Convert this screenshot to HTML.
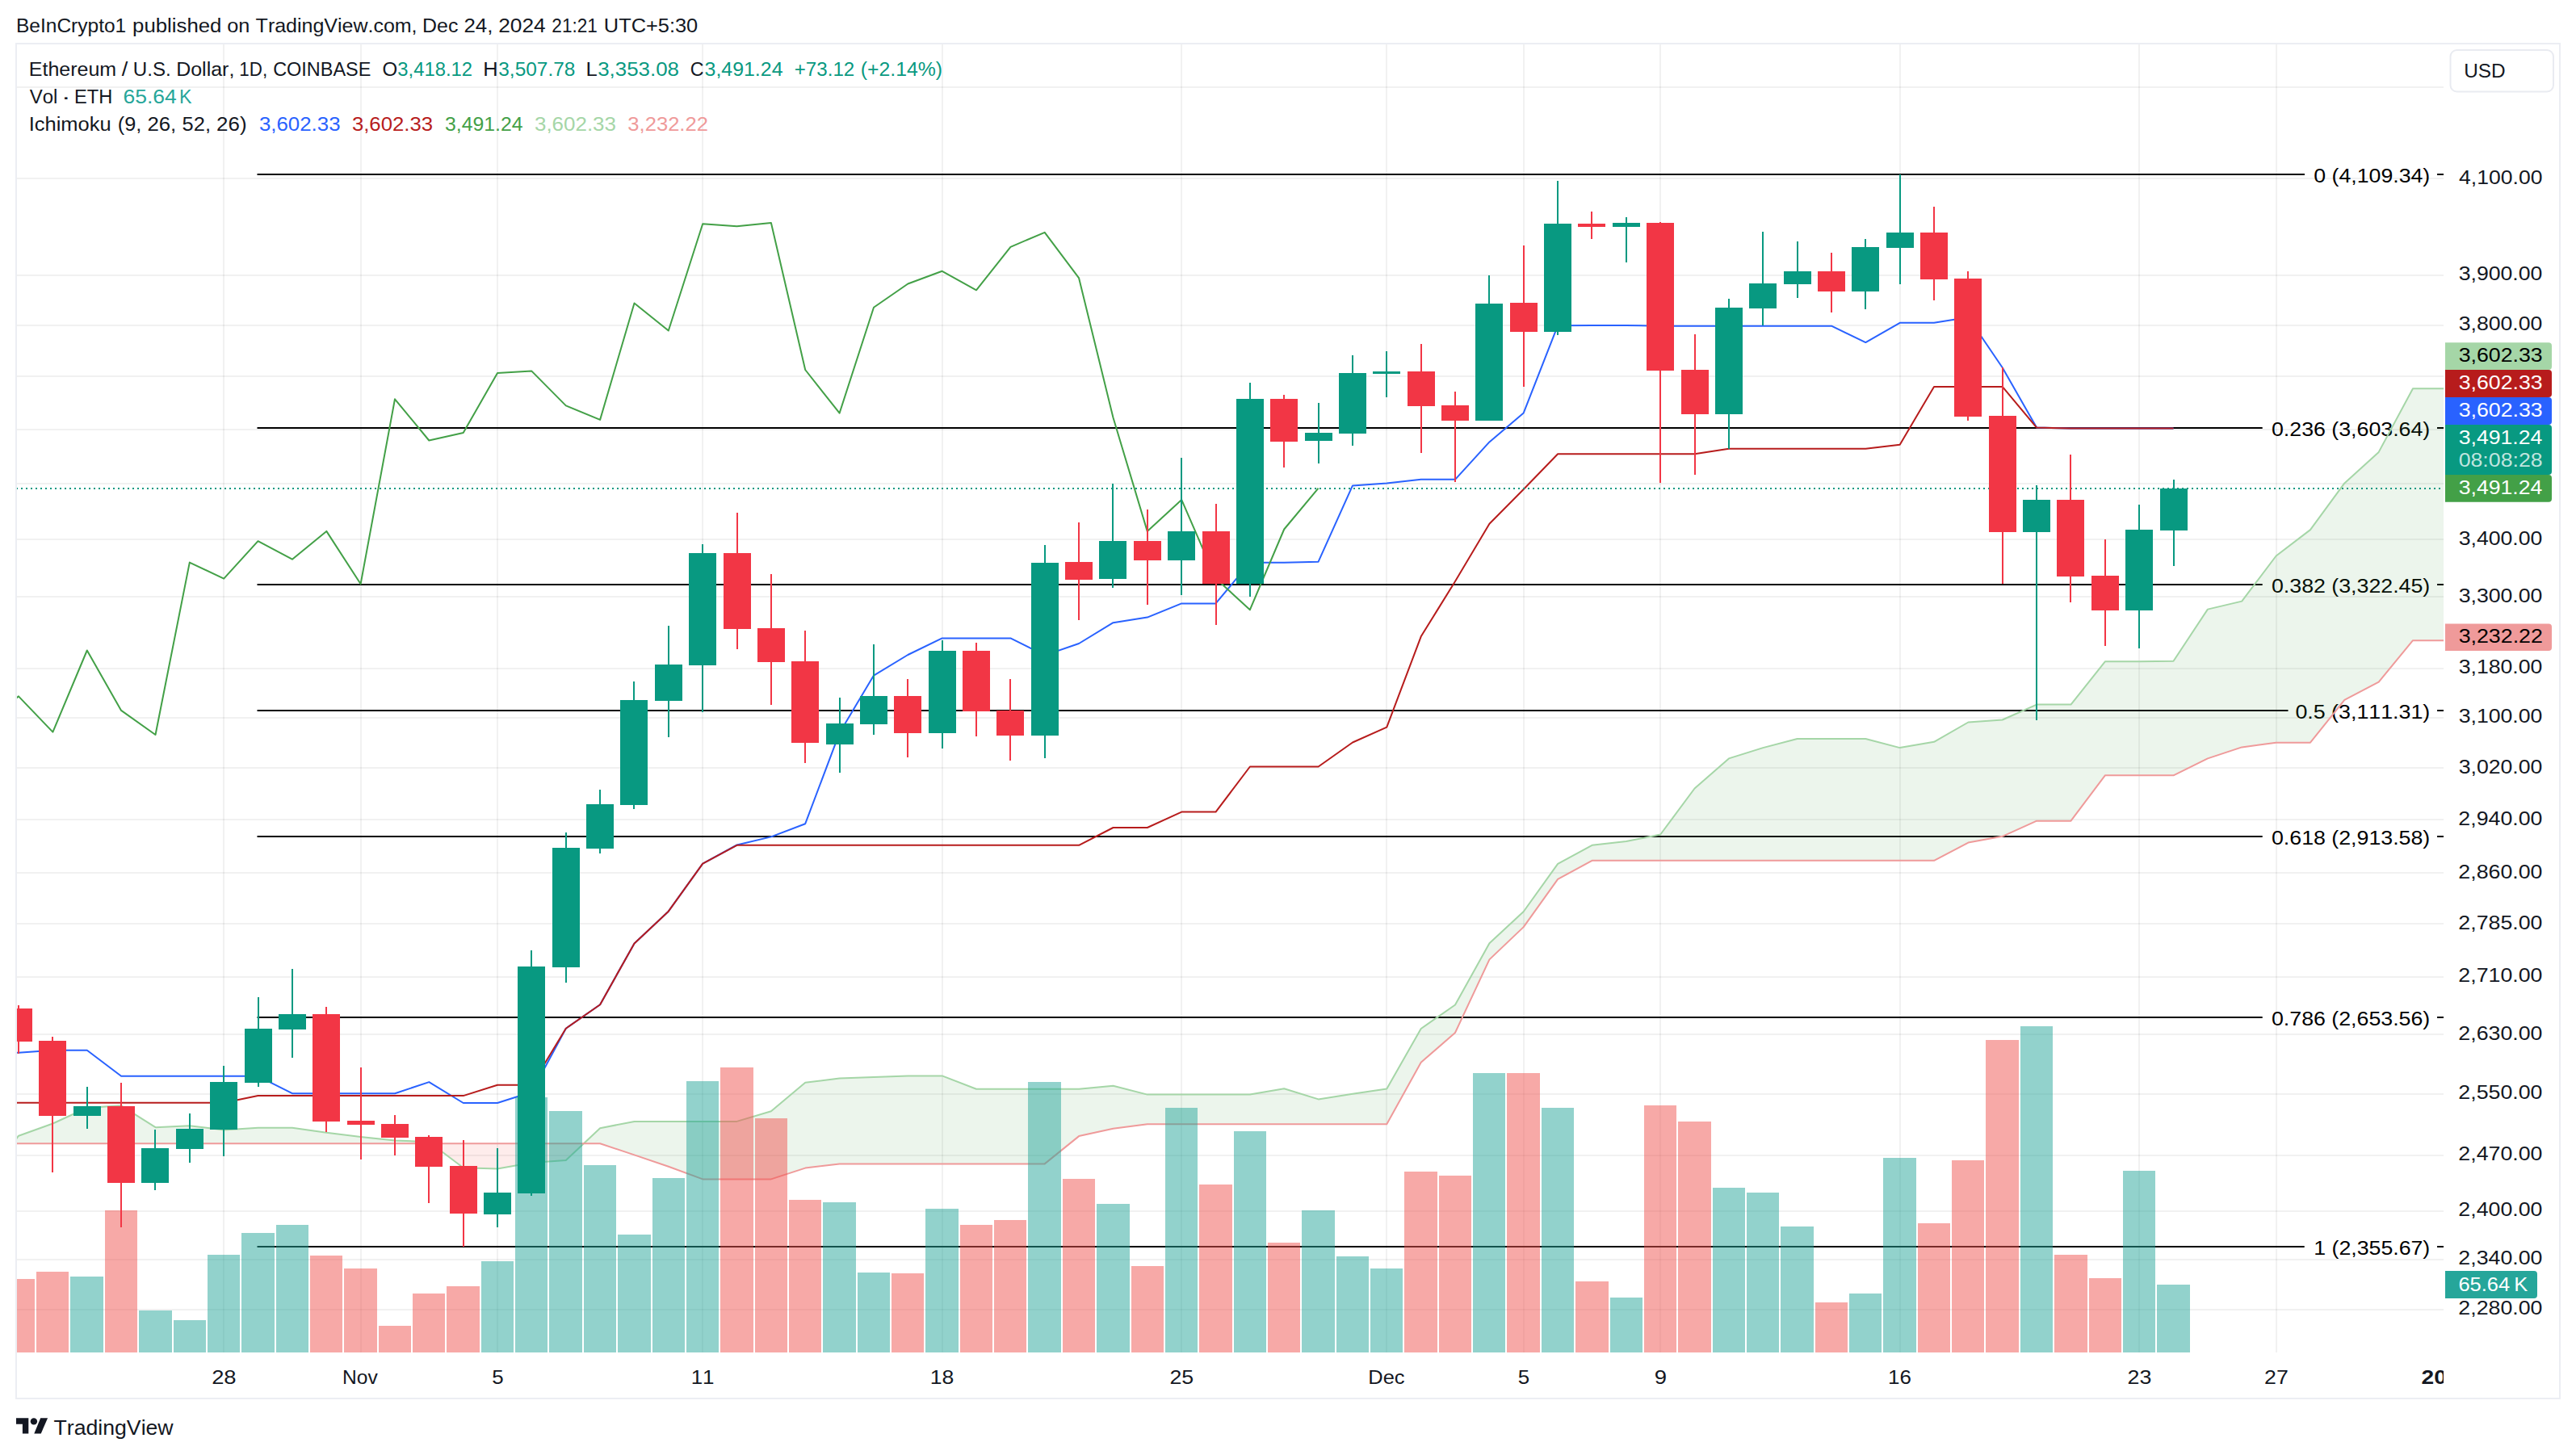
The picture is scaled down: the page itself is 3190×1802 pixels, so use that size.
<!DOCTYPE html>
<html lang="en"><head><meta charset="utf-8"><title>ETHUSD chart</title>
<style>html,body{margin:0;padding:0;background:#fff}body{width:3190px;height:1802px;overflow:hidden}svg{display:block}text{font-family:"Liberation Sans",sans-serif;fill:#131722;font-kerning:none}.ax{font-size:24px}.lg{font-size:22px}</style></head><body>
<svg width="3190" height="1802" viewBox="0 0 3190 1802">
<rect width="3190" height="1802" fill="#fff"/>
<defs><clipPath id="pane"><rect x="20" y="55" width="3006" height="1620"/></clipPath><clipPath id="tax"><rect x="21" y="1675" width="3005" height="56"/></clipPath></defs>
<text y="39.8" font-size="24.8" xml:space="preserve"><tspan x="19.99" textLength="136.27" lengthAdjust="spacingAndGlyphs">BeInCrypto1</tspan> <tspan x="164.14" textLength="110.22" lengthAdjust="spacingAndGlyphs">published</tspan> <tspan x="281.24" textLength="28.16" lengthAdjust="spacingAndGlyphs">on</tspan> <tspan x="316.64" textLength="199.91" lengthAdjust="spacingAndGlyphs">TradingView.com,</tspan> <tspan x="523.06" textLength="44.30" lengthAdjust="spacingAndGlyphs">Dec</tspan> <tspan x="574.50" textLength="35.92" lengthAdjust="spacingAndGlyphs">24,</tspan> <tspan x="617.18" textLength="58.49" lengthAdjust="spacingAndGlyphs">2024</tspan> <tspan x="683.36" textLength="56.49" lengthAdjust="spacingAndGlyphs">21:21</tspan> <tspan x="747.89" textLength="116.30" lengthAdjust="spacingAndGlyphs">UTC+5:30</tspan></text>
<g clip-path="url(#pane)">
<g stroke="#283230" stroke-opacity="0.065" stroke-width="2">
<line x1="277" y1="55" x2="277" y2="1675"/>
<line x1="447" y1="55" x2="447" y2="1675"/>
<line x1="616" y1="55" x2="616" y2="1675"/>
<line x1="870" y1="55" x2="870" y2="1675"/>
<line x1="1167" y1="55" x2="1167" y2="1675"/>
<line x1="1463" y1="55" x2="1463" y2="1675"/>
<line x1="1717" y1="55" x2="1717" y2="1675"/>
<line x1="1887" y1="55" x2="1887" y2="1675"/>
<line x1="2056" y1="55" x2="2056" y2="1675"/>
<line x1="2353" y1="55" x2="2353" y2="1675"/>
<line x1="2649" y1="55" x2="2649" y2="1675"/>
<line x1="2819" y1="55" x2="2819" y2="1675"/>
<line x1="3030" y1="55" x2="3030" y2="1675"/>
<line x1="21" y1="108" x2="3026" y2="108"/>
<line x1="21" y1="221" x2="3026" y2="221"/>
<line x1="21" y1="341" x2="3026" y2="341"/>
<line x1="21" y1="403" x2="3026" y2="403"/>
<line x1="21" y1="466" x2="3026" y2="466"/>
<line x1="21" y1="532" x2="3026" y2="532"/>
<line x1="21" y1="599" x2="3026" y2="599"/>
<line x1="21" y1="668" x2="3026" y2="668"/>
<line x1="21" y1="739" x2="3026" y2="739"/>
<line x1="21" y1="828" x2="3026" y2="828"/>
<line x1="21" y1="889" x2="3026" y2="889"/>
<line x1="21" y1="951" x2="3026" y2="951"/>
<line x1="21" y1="1015" x2="3026" y2="1015"/>
<line x1="21" y1="1081" x2="3026" y2="1081"/>
<line x1="21" y1="1144" x2="3026" y2="1144"/>
<line x1="21" y1="1210" x2="3026" y2="1210"/>
<line x1="21" y1="1281" x2="3026" y2="1281"/>
<line x1="21" y1="1355" x2="3026" y2="1355"/>
<line x1="21" y1="1431" x2="3026" y2="1431"/>
<line x1="21" y1="1500" x2="3026" y2="1500"/>
<line x1="21" y1="1560" x2="3026" y2="1560"/>
<line x1="21" y1="1622" x2="3026" y2="1622"/>
</g>
<g stroke="#000" stroke-width="2">
<line x1="318.5" y1="216" x2="2854" y2="216"/><line x1="3018" y1="216" x2="3026" y2="216"/>
<line x1="318.5" y1="530" x2="2801.7" y2="530"/><line x1="3018" y1="530" x2="3026" y2="530"/>
<line x1="318.5" y1="724" x2="2801.7" y2="724"/><line x1="3018" y1="724" x2="3026" y2="724"/>
<line x1="318.5" y1="880" x2="2833.5" y2="880"/><line x1="3018" y1="880" x2="3026" y2="880"/>
<line x1="318.5" y1="1036" x2="2801.7" y2="1036"/><line x1="3018" y1="1036" x2="3026" y2="1036"/>
<line x1="318.5" y1="1260" x2="2801.7" y2="1260"/><line x1="3018" y1="1260" x2="3026" y2="1260"/>
<line x1="318.5" y1="1544" x2="2853.7" y2="1544"/><line x1="3018" y1="1544" x2="3026" y2="1544"/>
</g>
<text x="2865.26" y="225.5" font-size="24.4" textLength="144.00" lengthAdjust="spacingAndGlyphs" style="fill:#000">0 (4,109.34)</text>
<text x="2812.96" y="539.5" font-size="24.4" textLength="196.30" lengthAdjust="spacingAndGlyphs" style="fill:#000">0.236 (3,603.64)</text>
<text x="2812.96" y="733.5" font-size="24.4" textLength="196.30" lengthAdjust="spacingAndGlyphs" style="fill:#000">0.382 (3,322.45)</text>
<text x="2842.45" y="889.5" font-size="24.4" textLength="166.81" lengthAdjust="spacingAndGlyphs" style="fill:#000">0.5 (3,111.31)</text>
<text x="2812.96" y="1045.5" font-size="24.4" textLength="196.30" lengthAdjust="spacingAndGlyphs" style="fill:#000">0.618 (2,913.58)</text>
<text x="2812.96" y="1269.5" font-size="24.4" textLength="196.30" lengthAdjust="spacingAndGlyphs" style="fill:#000">0.786 (2,653.56)</text>
<text x="2865.27" y="1553.5" font-size="24.4" textLength="143.99" lengthAdjust="spacingAndGlyphs" style="fill:#000">1 (2,355.67)</text>
<polygon points="-19.3,1464.0 16.0,1416.2 -19.3,1416.2" fill="#f44336" fill-opacity="0.1"/>
<polygon points="16.0,1416.2 23.0,1406.7 65.4,1391.5 107.8,1372.0 150.1,1369.3 192.5,1396.2 234.8,1394.2 277.2,1399.4 319.5,1396.8 361.9,1396.8 404.3,1402.8 446.6,1408.0 489.0,1412.4 531.3,1414.3 533.8,1416.2 531.3,1416.2 489.0,1416.2 446.6,1416.2 404.3,1416.2 361.9,1416.2 319.5,1416.2 277.2,1416.2 234.8,1416.2 192.5,1416.2 150.1,1416.2 107.8,1416.2 65.4,1416.2 23.0,1416.2" fill="#43a047" fill-opacity="0.1"/>
<polygon points="533.8,1416.2 573.7,1446.2 616.0,1447.6 658.4,1440.0 700.8,1436.9 722.8,1416.2 700.8,1416.2 658.4,1416.2 616.0,1416.2 573.7,1416.2" fill="#f44336" fill-opacity="0.1"/>
<polygon points="722.8,1416.2 743.1,1397.2 785.5,1388.9 827.8,1388.9 870.2,1388.9 912.5,1388.9 954.9,1376.3 997.2,1340.8 1039.6,1335.6 1082.0,1334.0 1124.3,1332.4 1166.7,1332.4 1209.0,1348.8 1251.4,1348.8 1293.7,1348.8 1336.1,1348.8 1378.5,1344.7 1420.8,1355.6 1463.2,1355.6 1505.5,1355.6 1547.9,1355.6 1590.2,1348.3 1632.6,1361.4 1675.0,1354.8 1717.3,1348.6 1759.7,1274.0 1802.0,1244.5 1844.4,1168.2 1886.7,1129.0 1929.1,1069.8 1971.5,1046.8 2013.8,1042.1 2056.2,1033.5 2098.5,976.5 2140.9,939.4 2183.2,926.1 2225.6,915.0 2268.0,915.0 2310.3,915.0 2352.7,926.1 2395.0,918.8 2437.4,894.5 2479.7,891.5 2522.1,872.6 2564.5,872.6 2606.8,819.3 2649.2,819.3 2691.5,818.8 2733.9,754.6 2776.2,744.6 2818.6,688.5 2861.0,656.1 2903.3,598.4 2945.7,559.9 2988.0,481.3 3030.4,481.3 3072.7,481.3 3072.7,793.2 3030.4,793.2 2988.0,793.2 2945.7,844.7 2903.3,866.9 2861.0,919.7 2818.6,919.7 2776.2,925.4 2733.9,939.4 2691.5,960.3 2649.2,960.3 2606.8,960.3 2564.5,1016.7 2522.1,1016.7 2479.7,1035.8 2437.4,1043.6 2395.0,1065.8 2352.7,1065.8 2310.3,1065.8 2268.0,1065.8 2225.6,1065.8 2183.2,1065.8 2140.9,1065.8 2098.5,1065.8 2056.2,1065.8 2013.8,1065.8 1971.5,1065.8 1929.1,1088.8 1886.7,1148.1 1844.4,1188.4 1802.0,1279.0 1759.7,1315.8 1717.3,1392.3 1675.0,1392.3 1632.6,1392.3 1590.2,1392.3 1547.9,1392.3 1505.5,1392.3 1463.2,1392.3 1420.8,1392.3 1378.5,1397.7 1336.1,1407.1 1293.7,1441.4 1251.4,1441.4 1209.0,1441.4 1166.7,1441.4 1124.3,1441.4 1082.0,1441.4 1039.6,1441.4 997.2,1446.6 954.9,1460.4 912.5,1460.4 870.2,1460.4 827.8,1444.7 785.5,1430.4 743.1,1416.2" fill="#43a047" fill-opacity="0.1"/>
<polyline points="-19.3,1464.0 23.0,1406.7 65.4,1391.5 107.8,1372.0 150.1,1369.3 192.5,1396.2 234.8,1394.2 277.2,1399.4 319.5,1396.8 361.9,1396.8 404.3,1402.8 446.6,1408.0 489.0,1412.4 531.3,1414.3 573.7,1446.2 616.0,1447.6 658.4,1440.0 700.8,1436.9 743.1,1397.2 785.5,1388.9 827.8,1388.9 870.2,1388.9 912.5,1388.9 954.9,1376.3 997.2,1340.8 1039.6,1335.6 1082.0,1334.0 1124.3,1332.4 1166.7,1332.4 1209.0,1348.8 1251.4,1348.8 1293.7,1348.8 1336.1,1348.8 1378.5,1344.7 1420.8,1355.6 1463.2,1355.6 1505.5,1355.6 1547.9,1355.6 1590.2,1348.3 1632.6,1361.4 1675.0,1354.8 1717.3,1348.6 1759.7,1274.0 1802.0,1244.5 1844.4,1168.2 1886.7,1129.0 1929.1,1069.8 1971.5,1046.8 2013.8,1042.1 2056.2,1033.5 2098.5,976.5 2140.9,939.4 2183.2,926.1 2225.6,915.0 2268.0,915.0 2310.3,915.0 2352.7,926.1 2395.0,918.8 2437.4,894.5 2479.7,891.5 2522.1,872.6 2564.5,872.6 2606.8,819.3 2649.2,819.3 2691.5,818.8 2733.9,754.6 2776.2,744.6 2818.6,688.5 2861.0,656.1 2903.3,598.4 2945.7,559.9 2988.0,481.3 3030.4,481.3 3072.7,481.3" fill="none" stroke="#a5d6a7" stroke-width="2" stroke-linejoin="round"/>
<polyline points="-19.3,1416.2 23.0,1416.2 65.4,1416.2 107.8,1416.2 150.1,1416.2 192.5,1416.2 234.8,1416.2 277.2,1416.2 319.5,1416.2 361.9,1416.2 404.3,1416.2 446.6,1416.2 489.0,1416.2 531.3,1416.2 573.7,1416.2 616.0,1416.2 658.4,1416.2 700.8,1416.2 743.1,1416.2 785.5,1430.4 827.8,1444.7 870.2,1460.4 912.5,1460.4 954.9,1460.4 997.2,1446.6 1039.6,1441.4 1082.0,1441.4 1124.3,1441.4 1166.7,1441.4 1209.0,1441.4 1251.4,1441.4 1293.7,1441.4 1336.1,1407.1 1378.5,1397.7 1420.8,1392.3 1463.2,1392.3 1505.5,1392.3 1547.9,1392.3 1590.2,1392.3 1632.6,1392.3 1675.0,1392.3 1717.3,1392.3 1759.7,1315.8 1802.0,1279.0 1844.4,1188.4 1886.7,1148.1 1929.1,1088.8 1971.5,1065.8 2013.8,1065.8 2056.2,1065.8 2098.5,1065.8 2140.9,1065.8 2183.2,1065.8 2225.6,1065.8 2268.0,1065.8 2310.3,1065.8 2352.7,1065.8 2395.0,1065.8 2437.4,1043.6 2479.7,1035.8 2522.1,1016.7 2564.5,1016.7 2606.8,960.3 2649.2,960.3 2691.5,960.3 2733.9,939.4 2776.2,925.4 2818.6,919.7 2861.0,919.7 2903.3,866.9 2945.7,844.7 2988.0,793.2 3030.4,793.2 3072.7,793.2" fill="none" stroke="#ef9a9a" stroke-width="2" stroke-linejoin="round"/>
<polyline points="-19.3,1304.5 23.0,1303.8 65.4,1300.7 107.8,1300.7 150.1,1332.8 192.5,1332.8 234.8,1332.8 277.2,1332.8 319.5,1332.8 361.9,1354.2 404.3,1354.2 446.6,1354.2 489.0,1354.2 531.3,1340.1 573.7,1366.0 616.0,1366.0 658.4,1352.5 700.8,1273.7 743.1,1244.2 785.5,1168.4 827.8,1128.7 870.2,1069.6 912.5,1046.5 954.9,1036.4 997.2,1020.2 1039.6,907.7 1082.0,836.6 1124.3,811.0 1166.7,790.4 1209.0,790.4 1251.4,790.4 1293.7,811.6 1336.1,797.0 1378.5,771.2 1420.8,764.6 1463.2,747.4 1505.5,747.4 1547.9,696.7 1590.2,696.7 1632.6,695.7 1675.0,601.4 1717.3,598.5 1759.7,593.8 1802.0,593.8 1844.4,547.4 1886.7,511.5 1929.1,403.2 1971.5,402.9 2013.8,402.9 2056.2,403.7 2098.5,403.7 2140.9,403.7 2183.2,403.7 2225.6,403.7 2268.0,403.7 2310.3,424.1 2352.7,399.8 2395.0,399.8 2437.4,393.0 2479.7,455.2 2522.1,529.6 2564.5,530.4 2606.8,530.4 2649.2,530.4 2691.5,530.4" fill="none" stroke="#2962ff" stroke-width="2" stroke-linejoin="round"/>
<polyline points="-19.3,1365.7 23.0,1365.7 65.4,1365.7 107.8,1365.7 150.1,1365.7 192.5,1365.7 234.8,1365.7 277.2,1365.7 319.5,1357.1 361.9,1357.1 404.3,1357.1 446.6,1357.1 489.0,1357.1 531.3,1357.1 573.7,1357.1 616.0,1343.7 658.4,1343.7 700.8,1273.7 743.1,1244.2 785.5,1168.4 827.8,1128.7 870.2,1069.6 912.5,1046.8 954.9,1046.8 997.2,1046.8 1039.6,1046.8 1082.0,1046.8 1124.3,1046.8 1166.7,1046.8 1209.0,1046.8 1251.4,1046.8 1293.7,1046.8 1336.1,1046.8 1378.5,1025.0 1420.8,1025.0 1463.2,1005.6 1505.5,1005.6 1547.9,949.5 1590.2,949.5 1632.6,949.5 1675.0,919.5 1717.3,900.7 1759.7,788.3 1802.0,720.0 1844.4,648.8 1886.7,606.0 1929.1,562.2 1971.5,562.2 2013.8,562.2 2056.2,562.2 2098.5,562.2 2140.9,555.7 2183.2,555.7 2225.6,555.7 2268.0,555.7 2310.3,555.7 2352.7,550.7 2395.0,478.9 2437.4,478.9 2479.7,478.9 2522.1,529.6 2564.5,530.4 2606.8,530.4 2649.2,530.4 2691.5,530.4" fill="none" stroke="#b71c1c" stroke-width="2" stroke-linejoin="round"/>
<polyline points="-19.3,896.2 23.0,862.4 65.4,906.6 107.8,805.5 150.1,879.9 192.5,910.0 234.8,696.6 277.2,716.7 319.5,670.2 361.9,692.7 404.3,657.9 446.6,723.2 489.0,494.3 531.3,545.5 573.7,536.1 616.0,462.0 658.4,459.6 700.8,502.4 743.1,519.9 785.5,375.5 827.8,409.5 870.2,277.3 912.5,280.2 954.9,276.0 997.2,458.0 1039.6,511.6 1082.0,380.7 1124.3,351.5 1166.7,335.8 1209.0,359.3 1251.4,305.8 1293.7,287.8 1336.1,344.4 1378.5,517.3 1420.8,658.1 1463.2,618.9 1505.5,716.3 1547.9,755.2 1590.2,655.5 1632.6,604.7" fill="none" stroke="#43a047" stroke-width="2" stroke-linejoin="round"/>
<rect x="3" y="1584" width="40" height="91" fill="#ef5350" fill-opacity="0.5"/>
<rect x="45" y="1575" width="40" height="100" fill="#ef5350" fill-opacity="0.5"/>
<rect x="87" y="1581" width="41" height="94" fill="#26a69a" fill-opacity="0.5"/>
<rect x="130" y="1499" width="40" height="176" fill="#ef5350" fill-opacity="0.5"/>
<rect x="172" y="1623" width="41" height="52" fill="#26a69a" fill-opacity="0.5"/>
<rect x="215" y="1635" width="40" height="40" fill="#26a69a" fill-opacity="0.5"/>
<rect x="257" y="1554" width="40" height="121" fill="#26a69a" fill-opacity="0.5"/>
<rect x="299" y="1527" width="41" height="148" fill="#26a69a" fill-opacity="0.5"/>
<rect x="342" y="1517" width="40" height="158" fill="#26a69a" fill-opacity="0.5"/>
<rect x="384" y="1555" width="40" height="120" fill="#ef5350" fill-opacity="0.5"/>
<rect x="426" y="1571" width="41" height="104" fill="#ef5350" fill-opacity="0.5"/>
<rect x="469" y="1642" width="40" height="33" fill="#ef5350" fill-opacity="0.5"/>
<rect x="511" y="1602" width="40" height="73" fill="#ef5350" fill-opacity="0.5"/>
<rect x="553" y="1593" width="41" height="82" fill="#ef5350" fill-opacity="0.5"/>
<rect x="596" y="1562" width="40" height="113" fill="#26a69a" fill-opacity="0.5"/>
<rect x="638" y="1359" width="40" height="316" fill="#26a69a" fill-opacity="0.5"/>
<rect x="680" y="1376" width="41" height="299" fill="#26a69a" fill-opacity="0.5"/>
<rect x="723" y="1443" width="40" height="232" fill="#26a69a" fill-opacity="0.5"/>
<rect x="765" y="1529" width="41" height="146" fill="#26a69a" fill-opacity="0.5"/>
<rect x="808" y="1459" width="40" height="216" fill="#26a69a" fill-opacity="0.5"/>
<rect x="850" y="1339" width="40" height="336" fill="#26a69a" fill-opacity="0.5"/>
<rect x="892" y="1322" width="41" height="353" fill="#ef5350" fill-opacity="0.5"/>
<rect x="935" y="1385" width="40" height="290" fill="#ef5350" fill-opacity="0.5"/>
<rect x="977" y="1486" width="40" height="189" fill="#ef5350" fill-opacity="0.5"/>
<rect x="1019" y="1489" width="41" height="186" fill="#26a69a" fill-opacity="0.5"/>
<rect x="1062" y="1576" width="40" height="99" fill="#26a69a" fill-opacity="0.5"/>
<rect x="1104" y="1577" width="40" height="98" fill="#ef5350" fill-opacity="0.5"/>
<rect x="1146" y="1497" width="41" height="178" fill="#26a69a" fill-opacity="0.5"/>
<rect x="1189" y="1517" width="40" height="158" fill="#ef5350" fill-opacity="0.5"/>
<rect x="1231" y="1511" width="40" height="164" fill="#ef5350" fill-opacity="0.5"/>
<rect x="1273" y="1340" width="41" height="335" fill="#26a69a" fill-opacity="0.5"/>
<rect x="1316" y="1460" width="40" height="215" fill="#ef5350" fill-opacity="0.5"/>
<rect x="1358" y="1491" width="41" height="184" fill="#26a69a" fill-opacity="0.5"/>
<rect x="1401" y="1568" width="40" height="107" fill="#ef5350" fill-opacity="0.5"/>
<rect x="1443" y="1372" width="40" height="303" fill="#26a69a" fill-opacity="0.5"/>
<rect x="1485" y="1467" width="41" height="208" fill="#ef5350" fill-opacity="0.5"/>
<rect x="1528" y="1401" width="40" height="274" fill="#26a69a" fill-opacity="0.5"/>
<rect x="1570" y="1539" width="40" height="136" fill="#ef5350" fill-opacity="0.5"/>
<rect x="1612" y="1499" width="41" height="176" fill="#26a69a" fill-opacity="0.5"/>
<rect x="1655" y="1556" width="40" height="119" fill="#26a69a" fill-opacity="0.5"/>
<rect x="1697" y="1571" width="40" height="104" fill="#26a69a" fill-opacity="0.5"/>
<rect x="1739" y="1451" width="41" height="224" fill="#ef5350" fill-opacity="0.5"/>
<rect x="1782" y="1456" width="40" height="219" fill="#ef5350" fill-opacity="0.5"/>
<rect x="1824" y="1329" width="40" height="346" fill="#26a69a" fill-opacity="0.5"/>
<rect x="1866" y="1329" width="41" height="346" fill="#ef5350" fill-opacity="0.5"/>
<rect x="1909" y="1372" width="40" height="303" fill="#26a69a" fill-opacity="0.5"/>
<rect x="1951" y="1587" width="41" height="88" fill="#ef5350" fill-opacity="0.5"/>
<rect x="1994" y="1607" width="40" height="68" fill="#26a69a" fill-opacity="0.5"/>
<rect x="2036" y="1369" width="40" height="306" fill="#ef5350" fill-opacity="0.5"/>
<rect x="2078" y="1389" width="41" height="286" fill="#ef5350" fill-opacity="0.5"/>
<rect x="2121" y="1471" width="40" height="204" fill="#26a69a" fill-opacity="0.5"/>
<rect x="2163" y="1477" width="40" height="198" fill="#26a69a" fill-opacity="0.5"/>
<rect x="2205" y="1519" width="41" height="156" fill="#26a69a" fill-opacity="0.5"/>
<rect x="2248" y="1613" width="40" height="62" fill="#ef5350" fill-opacity="0.5"/>
<rect x="2290" y="1602" width="40" height="73" fill="#26a69a" fill-opacity="0.5"/>
<rect x="2332" y="1434" width="41" height="241" fill="#26a69a" fill-opacity="0.5"/>
<rect x="2375" y="1515" width="40" height="160" fill="#ef5350" fill-opacity="0.5"/>
<rect x="2417" y="1437" width="40" height="238" fill="#ef5350" fill-opacity="0.5"/>
<rect x="2459" y="1288" width="41" height="387" fill="#ef5350" fill-opacity="0.5"/>
<rect x="2502" y="1271" width="40" height="404" fill="#26a69a" fill-opacity="0.5"/>
<rect x="2544" y="1554" width="41" height="121" fill="#ef5350" fill-opacity="0.5"/>
<rect x="2587" y="1583" width="40" height="92" fill="#ef5350" fill-opacity="0.5"/>
<rect x="2629" y="1450" width="40" height="225" fill="#26a69a" fill-opacity="0.5"/>
<rect x="2671" y="1591" width="41" height="84" fill="#26a69a" fill-opacity="0.5"/>
<line x1="20" y1="605" x2="3026" y2="605" stroke="#089981" stroke-width="2" stroke-dasharray="2 4"/>
<rect x="22" y="1245" width="2" height="60" fill="#f23645"/><rect x="6" y="1249" width="34" height="41" fill="#f23645"/>
<rect x="64" y="1284" width="2" height="168" fill="#f23645"/><rect x="48" y="1289" width="34" height="93" fill="#f23645"/>
<rect x="107" y="1346" width="2" height="52" fill="#089981"/><rect x="91" y="1370" width="34" height="12" fill="#089981"/>
<rect x="149" y="1341" width="2" height="179" fill="#f23645"/><rect x="133" y="1370" width="34" height="95" fill="#f23645"/>
<rect x="191" y="1399" width="2" height="75" fill="#089981"/><rect x="175" y="1422" width="34" height="43" fill="#089981"/>
<rect x="234" y="1379" width="2" height="61" fill="#089981"/><rect x="218" y="1398" width="34" height="25" fill="#089981"/>
<rect x="276" y="1320" width="2" height="112" fill="#089981"/><rect x="260" y="1340" width="34" height="59" fill="#089981"/>
<rect x="319" y="1235" width="2" height="111" fill="#089981"/><rect x="303" y="1274" width="34" height="67" fill="#089981"/>
<rect x="361" y="1200" width="2" height="110" fill="#089981"/><rect x="345" y="1256" width="34" height="19" fill="#089981"/>
<rect x="403" y="1247" width="2" height="155" fill="#f23645"/><rect x="387" y="1256" width="34" height="133" fill="#f23645"/>
<rect x="446" y="1322" width="2" height="114" fill="#f23645"/><rect x="430" y="1388" width="34" height="5" fill="#f23645"/>
<rect x="488" y="1381" width="2" height="50" fill="#f23645"/><rect x="472" y="1392" width="34" height="17" fill="#f23645"/>
<rect x="530" y="1406" width="2" height="84" fill="#f23645"/><rect x="514" y="1408" width="34" height="37" fill="#f23645"/>
<rect x="573" y="1412" width="2" height="132" fill="#f23645"/><rect x="557" y="1444" width="34" height="59" fill="#f23645"/>
<rect x="615" y="1422" width="2" height="98" fill="#089981"/><rect x="599" y="1477" width="34" height="27" fill="#089981"/>
<rect x="657" y="1177" width="2" height="304" fill="#089981"/><rect x="641" y="1197" width="34" height="281" fill="#089981"/>
<rect x="700" y="1031" width="2" height="186" fill="#089981"/><rect x="684" y="1050" width="34" height="148" fill="#089981"/>
<rect x="742" y="978" width="2" height="79" fill="#089981"/><rect x="726" y="996" width="34" height="55" fill="#089981"/>
<rect x="784" y="844" width="2" height="158" fill="#089981"/><rect x="768" y="867" width="34" height="130" fill="#089981"/>
<rect x="827" y="775" width="2" height="138" fill="#089981"/><rect x="811" y="823" width="34" height="45" fill="#089981"/>
<rect x="869" y="674" width="2" height="208" fill="#089981"/><rect x="853" y="685" width="34" height="139" fill="#089981"/>
<rect x="912" y="635" width="2" height="169" fill="#f23645"/><rect x="896" y="685" width="34" height="94" fill="#f23645"/>
<rect x="954" y="711" width="2" height="162" fill="#f23645"/><rect x="938" y="778" width="34" height="42" fill="#f23645"/>
<rect x="996" y="781" width="2" height="164" fill="#f23645"/><rect x="980" y="819" width="34" height="101" fill="#f23645"/>
<rect x="1039" y="864" width="2" height="93" fill="#089981"/><rect x="1023" y="896" width="34" height="26" fill="#089981"/>
<rect x="1081" y="798" width="2" height="112" fill="#089981"/><rect x="1065" y="862" width="34" height="35" fill="#089981"/>
<rect x="1123" y="841" width="2" height="97" fill="#f23645"/><rect x="1107" y="862" width="34" height="46" fill="#f23645"/>
<rect x="1166" y="793" width="2" height="134" fill="#089981"/><rect x="1150" y="806" width="34" height="102" fill="#089981"/>
<rect x="1208" y="796" width="2" height="116" fill="#f23645"/><rect x="1192" y="806" width="34" height="75" fill="#f23645"/>
<rect x="1250" y="841" width="2" height="101" fill="#f23645"/><rect x="1234" y="880" width="34" height="31" fill="#f23645"/>
<rect x="1293" y="675" width="2" height="264" fill="#089981"/><rect x="1277" y="697" width="34" height="214" fill="#089981"/>
<rect x="1335" y="647" width="2" height="121" fill="#f23645"/><rect x="1319" y="696" width="34" height="22" fill="#f23645"/>
<rect x="1377" y="599" width="2" height="129" fill="#089981"/><rect x="1361" y="670" width="34" height="47" fill="#089981"/>
<rect x="1420" y="631" width="2" height="118" fill="#f23645"/><rect x="1404" y="670" width="34" height="24" fill="#f23645"/>
<rect x="1462" y="567" width="2" height="170" fill="#089981"/><rect x="1446" y="658" width="34" height="36" fill="#089981"/>
<rect x="1505" y="624" width="2" height="150" fill="#f23645"/><rect x="1489" y="658" width="34" height="65" fill="#f23645"/>
<rect x="1547" y="474" width="2" height="265" fill="#089981"/><rect x="1531" y="494" width="34" height="229" fill="#089981"/>
<rect x="1589" y="489" width="2" height="90" fill="#f23645"/><rect x="1573" y="494" width="34" height="53" fill="#f23645"/>
<rect x="1632" y="499" width="2" height="75" fill="#089981"/><rect x="1616" y="536" width="34" height="10" fill="#089981"/>
<rect x="1674" y="440" width="2" height="112" fill="#089981"/><rect x="1658" y="462" width="34" height="75" fill="#089981"/>
<rect x="1716" y="435" width="2" height="57" fill="#089981"/><rect x="1700" y="460" width="34" height="3" fill="#089981"/>
<rect x="1759" y="426" width="2" height="135" fill="#f23645"/><rect x="1743" y="460" width="34" height="43" fill="#f23645"/>
<rect x="1801" y="485" width="2" height="112" fill="#f23645"/><rect x="1785" y="502" width="34" height="19" fill="#f23645"/>
<rect x="1843" y="341" width="2" height="180" fill="#089981"/><rect x="1827" y="376" width="34" height="145" fill="#089981"/>
<rect x="1886" y="304" width="2" height="175" fill="#f23645"/><rect x="1870" y="375" width="34" height="36" fill="#f23645"/>
<rect x="1928" y="224" width="2" height="191" fill="#089981"/><rect x="1912" y="277" width="34" height="134" fill="#089981"/>
<rect x="1970" y="262" width="2" height="34" fill="#f23645"/><rect x="1954" y="277" width="34" height="4" fill="#f23645"/>
<rect x="2013" y="269" width="2" height="56" fill="#089981"/><rect x="1997" y="276" width="34" height="5" fill="#089981"/>
<rect x="2055" y="275" width="2" height="323" fill="#f23645"/><rect x="2039" y="276" width="34" height="183" fill="#f23645"/>
<rect x="2098" y="414" width="2" height="174" fill="#f23645"/><rect x="2082" y="458" width="34" height="55" fill="#f23645"/>
<rect x="2140" y="370" width="2" height="186" fill="#089981"/><rect x="2124" y="381" width="34" height="132" fill="#089981"/>
<rect x="2182" y="287" width="2" height="116" fill="#089981"/><rect x="2166" y="351" width="34" height="31" fill="#089981"/>
<rect x="2225" y="299" width="2" height="70" fill="#089981"/><rect x="2209" y="336" width="34" height="16" fill="#089981"/>
<rect x="2267" y="313" width="2" height="74" fill="#f23645"/><rect x="2251" y="336" width="34" height="25" fill="#f23645"/>
<rect x="2309" y="296" width="2" height="87" fill="#089981"/><rect x="2293" y="306" width="34" height="55" fill="#089981"/>
<rect x="2352" y="216" width="2" height="136" fill="#089981"/><rect x="2336" y="288" width="34" height="19" fill="#089981"/>
<rect x="2394" y="256" width="2" height="116" fill="#f23645"/><rect x="2378" y="288" width="34" height="58" fill="#f23645"/>
<rect x="2436" y="336" width="2" height="185" fill="#f23645"/><rect x="2420" y="345" width="34" height="171" fill="#f23645"/>
<rect x="2479" y="455" width="2" height="268" fill="#f23645"/><rect x="2463" y="515" width="34" height="144" fill="#f23645"/>
<rect x="2521" y="601" width="2" height="291" fill="#089981"/><rect x="2505" y="619" width="34" height="40" fill="#089981"/>
<rect x="2563" y="563" width="2" height="183" fill="#f23645"/><rect x="2547" y="619" width="34" height="95" fill="#f23645"/>
<rect x="2606" y="668" width="2" height="132" fill="#f23645"/><rect x="2590" y="713" width="34" height="43" fill="#f23645"/>
<rect x="2648" y="625" width="2" height="178" fill="#089981"/><rect x="2632" y="656" width="34" height="100" fill="#089981"/>
<rect x="2691" y="594" width="2" height="107" fill="#089981"/><rect x="2675" y="605" width="34" height="52" fill="#089981"/>
</g>
<text y="93.9" font-size="24.6" xml:space="preserve"><tspan x="35.81" textLength="108.40" lengthAdjust="spacingAndGlyphs">Ethereum</tspan> <tspan x="150.85" textLength="7.55" lengthAdjust="spacingAndGlyphs">/</tspan> <tspan x="164.74" textLength="46.97" lengthAdjust="spacingAndGlyphs">U.S.</tspan> <tspan x="218.20" textLength="72.14" lengthAdjust="spacingAndGlyphs">Dollar,</tspan> <tspan x="296.30" textLength="34.81" lengthAdjust="spacingAndGlyphs">1D,</tspan> <tspan x="338.21" textLength="121.10" lengthAdjust="spacingAndGlyphs">COINBASE</tspan>  <tspan x="473.42" textLength="18.68" lengthAdjust="spacingAndGlyphs">O</tspan><tspan x="492.35" textLength="92.64" lengthAdjust="spacingAndGlyphs" style="fill:#089981">3,418.12</tspan>  <tspan x="598.31" textLength="18.36" lengthAdjust="spacingAndGlyphs">H</tspan><tspan x="617.27" textLength="95.09" lengthAdjust="spacingAndGlyphs" style="fill:#089981">3,507.78</tspan>  <tspan x="725.60" textLength="14.25" lengthAdjust="spacingAndGlyphs">L</tspan><tspan x="740.21" textLength="100.71" lengthAdjust="spacingAndGlyphs" style="fill:#089981">3,353.08</tspan>  <tspan x="854.82" textLength="16.76" lengthAdjust="spacingAndGlyphs">C</tspan><tspan x="872.55" textLength="96.93" lengthAdjust="spacingAndGlyphs" style="fill:#089981">3,491.24</tspan>  <tspan x="983.77" textLength="74.54" lengthAdjust="spacingAndGlyphs" style="fill:#089981">+73.12</tspan> <tspan x="1065.86" textLength="101.27" lengthAdjust="spacingAndGlyphs" style="fill:#089981">(+2.14%)</tspan></text>
<text y="127.7" font-size="24.6" xml:space="preserve"><tspan x="36.69" textLength="34.61" lengthAdjust="spacingAndGlyphs">Vol</tspan> <tspan x="75.67" textLength="12.03" lengthAdjust="spacingAndGlyphs">·</tspan> <tspan x="92.11" textLength="47.21" lengthAdjust="spacingAndGlyphs">ETH</tspan>  <tspan x="152.46" textLength="66.22" lengthAdjust="spacingAndGlyphs" style="fill:#26a69a">65.64</tspan> <tspan x="222.00" textLength="15.46" lengthAdjust="spacingAndGlyphs" style="fill:#26a69a">K</tspan></text>
<text y="161.8" font-size="24.6" xml:space="preserve"><tspan x="35.75" textLength="101.84" lengthAdjust="spacingAndGlyphs">Ichimoku</tspan> <tspan x="145.83" textLength="29.49" lengthAdjust="spacingAndGlyphs">(9,</tspan> <tspan x="182.40" textLength="35.92" lengthAdjust="spacingAndGlyphs">26,</tspan> <tspan x="225.63" textLength="35.35" lengthAdjust="spacingAndGlyphs">52,</tspan> <tspan x="268.10" textLength="37.46" lengthAdjust="spacingAndGlyphs">26)</tspan>  <tspan x="320.92" textLength="100.62" lengthAdjust="spacingAndGlyphs" style="fill:#2962ff">3,602.33</tspan>  <tspan x="435.92" textLength="100.11" lengthAdjust="spacingAndGlyphs" style="fill:#b71c1c">3,602.33</tspan>  <tspan x="551.06" textLength="96.47" lengthAdjust="spacingAndGlyphs" style="fill:#43a047">3,491.24</tspan>  <tspan x="662.01" textLength="100.93" lengthAdjust="spacingAndGlyphs" style="fill:#a5d6a7">3,602.33</tspan>  <tspan x="777.33" textLength="99.61" lengthAdjust="spacingAndGlyphs" style="fill:#ef9a9a">3,232.22</tspan></text>
<rect x="3034.5" y="62" width="127.5" height="51.5" rx="8" ry="8" fill="#fff" stroke="#e9ebf1" stroke-width="2"/>
<text x="3051.22" y="96.3" font-size="24.4" textLength="51.45" lengthAdjust="spacingAndGlyphs">USD</text>
<text x="3045.09" y="227.9" font-size="24.4" textLength="103.35" lengthAdjust="spacingAndGlyphs">4,100.00</text>
<text x="3044.68" y="347.2" font-size="24.4" textLength="103.76" lengthAdjust="spacingAndGlyphs">3,900.00</text>
<text x="3044.68" y="409" font-size="24.4" textLength="103.76" lengthAdjust="spacingAndGlyphs">3,800.00</text>
<text x="3044.68" y="675" font-size="24.4" textLength="103.76" lengthAdjust="spacingAndGlyphs">3,400.00</text>
<text x="3044.68" y="746" font-size="24.4" textLength="103.76" lengthAdjust="spacingAndGlyphs">3,300.00</text>
<text x="3044.68" y="833.8" font-size="24.4" textLength="103.76" lengthAdjust="spacingAndGlyphs">3,180.00</text>
<text x="3044.68" y="895.1" font-size="24.4" textLength="103.76" lengthAdjust="spacingAndGlyphs">3,100.00</text>
<text x="3044.68" y="957.9" font-size="24.4" textLength="103.76" lengthAdjust="spacingAndGlyphs">3,020.00</text>
<text x="3044.36" y="1021.7" font-size="24.4" textLength="104.09" lengthAdjust="spacingAndGlyphs">2,940.00</text>
<text x="3044.36" y="1087.7" font-size="24.4" textLength="104.09" lengthAdjust="spacingAndGlyphs">2,860.00</text>
<text x="3044.36" y="1150.7" font-size="24.4" textLength="104.09" lengthAdjust="spacingAndGlyphs">2,785.00</text>
<text x="3044.36" y="1215.7" font-size="24.4" textLength="104.09" lengthAdjust="spacingAndGlyphs">2,710.00</text>
<text x="3044.36" y="1288.1" font-size="24.4" textLength="104.09" lengthAdjust="spacingAndGlyphs">2,630.00</text>
<text x="3044.36" y="1361" font-size="24.4" textLength="104.09" lengthAdjust="spacingAndGlyphs">2,550.00</text>
<text x="3044.36" y="1437.2" font-size="24.4" textLength="104.09" lengthAdjust="spacingAndGlyphs">2,470.00</text>
<text x="3044.36" y="1506.1" font-size="24.4" textLength="104.09" lengthAdjust="spacingAndGlyphs">2,400.00</text>
<text x="3044.36" y="1566" font-size="24.4" textLength="104.09" lengthAdjust="spacingAndGlyphs">2,340.00</text>
<text x="3044.36" y="1628" font-size="24.4" textLength="104.09" lengthAdjust="spacingAndGlyphs">2,280.00</text>
<path d="M3028 424.2H3156a4 4 0 0 1 4 4V453.9a4 4 0 0 1 -4 4H3028Z" fill="#a5d6a7"/>
<text x="3044.68" y="447.8" font-size="23.5" textLength="103.99" lengthAdjust="spacingAndGlyphs" style="fill:#000">3,602.33</text>
<path d="M3028 457.9H3156a4 4 0 0 1 4 4V487.9a4 4 0 0 1 -4 4H3028Z" fill="#b71c1c"/>
<text x="3044.68" y="481.7" font-size="23.5" textLength="103.99" lengthAdjust="spacingAndGlyphs" style="fill:#fff">3,602.33</text>
<path d="M3028 491.9H3156a4 4 0 0 1 4 4V522a4 4 0 0 1 -4 4H3028Z" fill="#2962ff"/>
<text x="3044.68" y="515.6" font-size="23.5" textLength="103.99" lengthAdjust="spacingAndGlyphs" style="fill:#fff">3,602.33</text>
<path d="M3028 526H3156a4 4 0 0 1 4 4V584a4 4 0 0 1 -4 4H3028Z" fill="#089981"/>
<text x="3044.69" y="549.8" font-size="23.5" textLength="103.59" lengthAdjust="spacingAndGlyphs" style="fill:#fff">3,491.24</text>
<text x="3044.66" y="577.7" font-size="23.5" textLength="104.00" lengthAdjust="spacingAndGlyphs" style="fill:#fff;fill-opacity:0.75">08:08:28</text>
<path d="M3028 588H3156a4 4 0 0 1 4 4V617.7a4 4 0 0 1 -4 4H3028Z" fill="#43a047"/>
<text x="3044.69" y="612" font-size="23.5" textLength="103.59" lengthAdjust="spacingAndGlyphs" style="fill:#fff">3,491.24</text>
<path d="M3028 772.4H3156a4 4 0 0 1 4 4V802a4 4 0 0 1 -4 4H3028Z" fill="#ef9a9a"/>
<text x="3044.68" y="796" font-size="23.5" textLength="104.17" lengthAdjust="spacingAndGlyphs" style="fill:#000">3,232.22</text>
<path d="M3028 1573.9H3138a4 4 0 0 1 4 4V1604a4 4 0 0 1 -4 4H3028Z" fill="#26a69a"/>
<text x="3044.41" y="1599.1" font-size="23.5" textLength="85.88" lengthAdjust="spacingAndGlyphs" style="fill:#fff">65.64 K</text>
<text x="262.15" y="1714" font-size="24.5" textLength="30.47" lengthAdjust="spacingAndGlyphs">28</text>
<text x="424.09" y="1714" font-size="24.5" textLength="43.70" lengthAdjust="spacingAndGlyphs">Nov</text>
<text x="609.15" y="1714" font-size="24.5" textLength="14.43" lengthAdjust="spacingAndGlyphs">5</text>
<text x="855.65" y="1714" font-size="24.5" textLength="28.95" lengthAdjust="spacingAndGlyphs">11</text>
<text x="1151.75" y="1714" font-size="24.5" textLength="29.58" lengthAdjust="spacingAndGlyphs">18</text>
<text x="1448.48" y="1714" font-size="24.5" textLength="29.77" lengthAdjust="spacingAndGlyphs">25</text>
<text x="1694.28" y="1714" font-size="24.5" textLength="45.26" lengthAdjust="spacingAndGlyphs">Dec</text>
<text x="1879.86" y="1714" font-size="24.5" textLength="14.43" lengthAdjust="spacingAndGlyphs">5</text>
<text x="2048.84" y="1714" font-size="24.5" textLength="15.29" lengthAdjust="spacingAndGlyphs">9</text>
<text x="2338.09" y="1714" font-size="24.5" textLength="28.92" lengthAdjust="spacingAndGlyphs">16</text>
<text x="2634.47" y="1714" font-size="24.5" textLength="29.83" lengthAdjust="spacingAndGlyphs">23</text>
<text x="2804.06" y="1714" font-size="24.5" textLength="29.68" lengthAdjust="spacingAndGlyphs">27</text>
<g clip-path="url(#tax)">
<text x="2998.63" y="1714" font-size="24.5" textLength="62.56" lengthAdjust="spacingAndGlyphs" font-weight="bold">2025</text>
</g>
<rect x="20" y="54" width="3150" height="1678" fill="none" stroke="#eceef3" stroke-width="2"/>
<g fill="#131722"><path d="M20 1756.2H35.3V1775.4H27.9V1763.8H20Z"/><circle cx="41.9" cy="1760.4" r="4.2"/><path d="M50.2 1756.2H59.1L50.7 1775.4H42.3Z"/></g>
<text x="66.50" y="1776.6" font-size="26.7" textLength="148.13" lengthAdjust="spacingAndGlyphs">TradingView</text>
</svg></body></html>
